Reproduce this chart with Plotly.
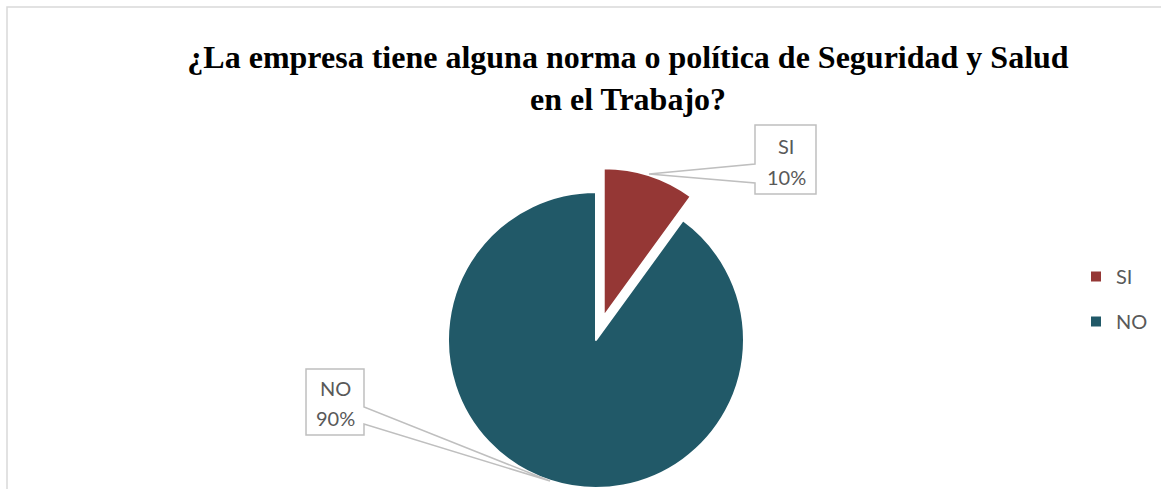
import math
import plotly.graph_objects as go

W, H = 1161, 489

labels = ["SI", "NO"]
values = [10, 90]
colors = ["#953735", "#215968"]
pct_text = ["10%", "90%"]
title_text = "<b>¿La empresa tiene alguna norma o política de Seguridad y Salud<br>en el Trabajo?</b>"

def px(x):
    return x / W

def py(y):
    return 1 - y / H

# pie geometry (pixels)
cx, cy, r = 596, 340, 148
pull_px = 25
ang = math.radians(18)
sx, sy = cx + pull_px * math.sin(ang), cy - pull_px * math.cos(ang)

def dom(cx_, cy_, r_):
    return dict(x=[px(cx_ - r_), px(cx_ + r_)], y=[max(0, py(cy_ + r_)), min(1, py(cy_ - r_))])

fig = go.Figure()

# NO slice (SI transparent)
fig.add_trace(go.Pie(
    labels=labels, values=values, sort=False, direction="clockwise", rotation=0,
    marker=dict(colors=["rgba(0,0,0,0)", colors[1]], line=dict(color="white", width=[0, 2])),
    textinfo="none", hoverinfo="label+percent", showlegend=False,
    domain=dom(cx, cy, r),
))
# SI slice (pulled out, NO transparent)
fig.add_trace(go.Pie(
    labels=labels, values=values, sort=False, direction="clockwise", rotation=0,
    marker=dict(colors=[colors[0], "rgba(0,0,0,0)"], line=dict(color="white", width=[2, 0])),
    textinfo="none", hoverinfo="label+percent", showlegend=False,
    domain=dom(sx, sy, r),
))

# legend entries
for lab, col in zip(labels, colors):
    fig.add_trace(go.Scatter(
        x=[None], y=[None], mode="markers", name=lab,
        marker=dict(symbol="square", size=10, color=col),
        legendgroup=lab, showlegend=True,
    ))

shapes = []
# chart border
shapes.append(dict(type="rect", xref="paper", yref="paper",
                   x0=px(7), y0=-0.05, x1=1.05, y1=py(7),
                   line=dict(color="#d9d9d9", width=1.5), fillcolor="rgba(0,0,0,0)"))

def callout(bx0, by0, bx1, by1, side, p0, p1, tip):
    if side == "left":
        pts = [(bx0, by0), (bx1, by0), (bx1, by1), (bx0, by1), (bx0, p1), tip, (bx0, p0)]
    else:
        pts = [(bx0, by0), (bx1, by0), (bx1, p0), tip, (bx1, p1), (bx1, by1), (bx0, by1)]
    path = "M " + " L ".join(f"{px(x):.5f},{py(y):.5f}" for x, y in pts) + " Z"
    return dict(type="path", xref="paper", yref="paper", path=path,
                line=dict(color="#bfbfbf", width=1.5), fillcolor="white", layer="above")

shapes.append(callout(755, 125, 816, 194, "left", 164, 183, (649, 174)))
shapes.append(callout(306, 369, 364, 435, "right", 407, 424, (550, 481)))

annotations = []
lab_pos = {"SI": (786, 146, 177), "NO": (335, 388, 418)}
for lab, pt in zip(labels, pct_text):
    x, y1, y2 = lab_pos[lab]
    for t, y in ((lab, y1), (pt, y2)):
        annotations.append(dict(text=t, x=px(x), y=py(y), xref="paper", yref="paper",
                                showarrow=False, xanchor="center", yanchor="middle",
                                font=dict(family="Lato", size=20, color="#595959")))

fig.update_layout(
    width=W, height=H,
    margin=dict(l=0, r=0, t=0, b=0),
    paper_bgcolor="white", plot_bgcolor="white",
    title=dict(text=title_text, x=628 / W, xanchor="center", y=1 - 68 / H, yanchor="top",
               yref="container",
               font=dict(family="Liberation Serif", size=32, color="black")),
    xaxis=dict(visible=False), yaxis=dict(visible=False),
    legend=dict(x=px(1076), y=py(257), xanchor="left", yanchor="top",
                font=dict(family="Lato", size=20, color="#595959"),
                traceorder="grouped", tracegroupgap=16, itemwidth=30,
                bgcolor="rgba(0,0,0,0)"),
    shapes=shapes, annotations=annotations,
)

fig.write_html("out.html", config={"displayModeBar": False},
               post_script="document.body.style.margin='0';")
